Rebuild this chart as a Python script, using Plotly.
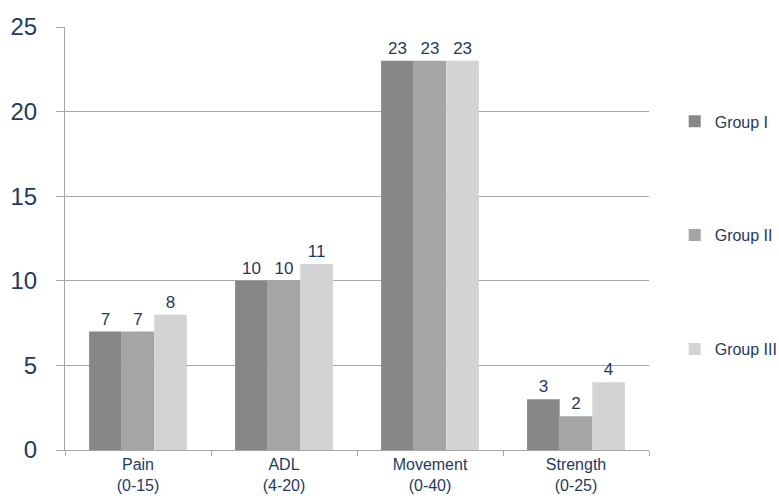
import plotly.graph_objects as go

categories = ["Pain<br>(0-15)", "ADL<br>(4-20)", "Movement<br>(0-40)", "Strength<br>(0-25)"]
group_names = ["Group I", "Group II", "Group III"]
group1 = [7, 10, 23, 3]
group2 = [7, 10, 23, 2]
group3 = [8, 11, 23, 4]
colors = ["#878787", "#a5a5a5", "#d3d3d3"]
y_ticks = [0, 5, 10, 15, 20, 25]

navy = "#1f3a60"
fig = go.Figure()
for name, vals, col in zip(group_names, [group1, group2, group3], colors):
    fig.add_trace(go.Bar(
        x=categories, y=vals, name=name, marker=dict(color=col, line=dict(width=0)),
        text=[str(v) for v in vals], textposition="outside", cliponaxis=False,
        textfont=dict(size=17, color=navy, family="Liberation Sans, Arial"),
        legendgroup=name,
    ))

fig.update_layout(
    width=779, height=499,
    margin=dict(l=65, r=130, t=27, b=49, autoexpand=False),
    paper_bgcolor="white", plot_bgcolor="white",
    barmode="group", bargap=0.33, bargroupgap=0,
    font=dict(family="Liberation Sans, Arial", color=navy),
    legend=dict(x=1.044, y=0.817, xanchor="left", yanchor="top",
                font=dict(size=16, color=navy), tracegroupgap=90,
                itemwidth=30),
    showlegend=True,
)
fig.update_yaxes(range=[0, 25], tickvals=y_ticks, showgrid=True, gridcolor="#a6a6a6",
                 gridwidth=1, showline=True, linecolor="#a6a6a6", ticks="outside",
                 ticklen=8, tickcolor="#a6a6a6", tickfont=dict(size=24, color=navy),
                 ticklabelstandoff=14, zeroline=False)
fig.update_xaxes(showline=True, linecolor="#a6a6a6", ticks="outside", tickson="boundaries",
                 ticklen=5, tickcolor="#a6a6a6", tickfont=dict(size=16, color=navy))

fig.write_html("out.html")
